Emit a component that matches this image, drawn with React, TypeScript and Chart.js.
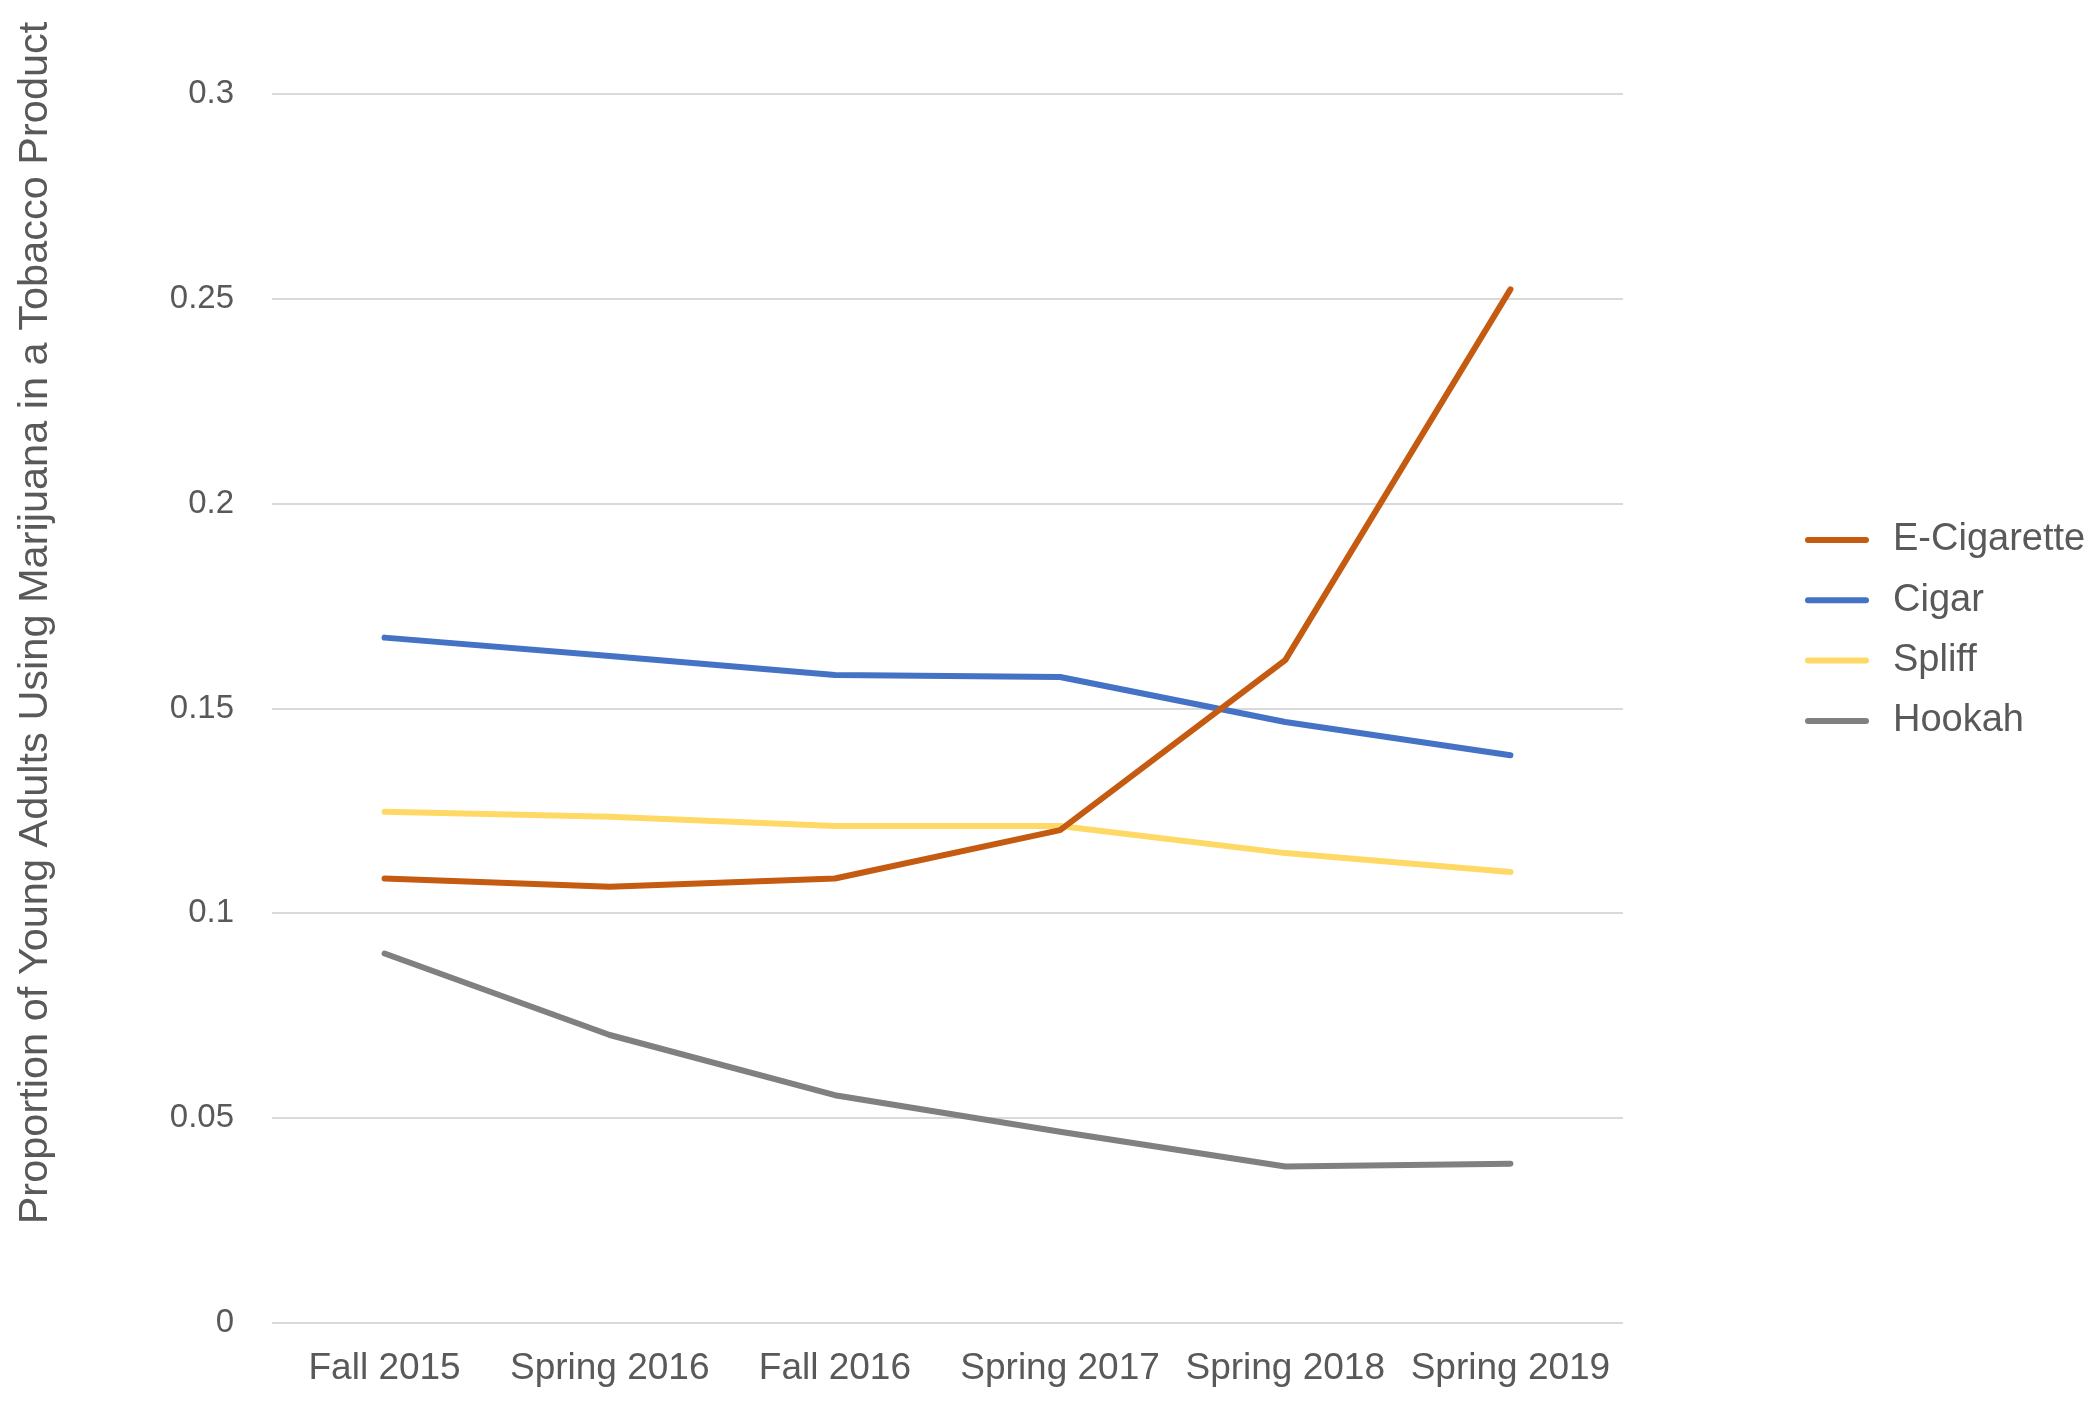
import React, { useEffect, useRef } from "react";
import { Chart, registerables } from "chart.js";

Chart.register(...registerables);

const categories = ["Fall 2015", "Spring 2016", "Fall 2016", "Spring 2017", "Spring 2018", "Spring 2019"];
const eCigarette = [0.1085, 0.1065, 0.1085, 0.1203, 0.1618, 0.2523];
const cigar = [0.1673, 0.1628, 0.1582, 0.1577, 0.1467, 0.1386];
const spliff = [0.1248, 0.1236, 0.1213, 0.1213, 0.1147, 0.1101];
const hookah = [0.0902, 0.0703, 0.0556, 0.0467, 0.0382, 0.0389];
const yTickLabels = ["0", "0.05", "0.1", "0.15", "0.2", "0.25", "0.3"];
const seriesNames = ["E-Cigarette", "Cigar", "Spliff", "Hookah"];
const yTitle = "Proportion of Young Adults Using Marijuana in a Tobacco Product";

const COLORS = ["#C55A11", "#4472C4", "#FFD966", "#808080"];
const FONT = "'Liberation Sans', Arial, sans-serif";
const TEXT = "#595959";

const legendPlugin = {
  id: "customLegend",
  afterDraw(chart: any) {
    const ctx = chart.ctx;
    const datasets = chart.data.datasets;
    ctx.save();
    ctx.font = `38px ${FONT}`;
    ctx.textBaseline = "middle";
    ctx.textAlign = "left";
    const startY = 540;
    const step = 60.3;
    datasets.forEach((ds: any, i: number) => {
      const y = startY + i * step;
      ctx.strokeStyle = ds.borderColor;
      ctx.lineWidth = 6;
      ctx.lineCap = "round";
      ctx.beginPath();
      ctx.moveTo(1808, y);
      ctx.lineTo(1866, y);
      ctx.stroke();
      ctx.fillStyle = TEXT;
      ctx.fillText(ds.label, 1893, y);
    });
    ctx.restore();
  },
};

const yTitlePlugin = {
  id: "yTitle",
  afterDraw(chart: any) {
    const ctx = chart.ctx;
    ctx.save();
    ctx.font = `41.5px ${FONT}`;
    ctx.fillStyle = TEXT;
    ctx.textAlign = "center";
    ctx.textBaseline = "middle";
    ctx.translate(36, 623);
    ctx.rotate(-Math.PI / 2);
    ctx.fillText(yTitle, 0, 0);
    ctx.restore();
  },
};

export default function App() {
  const ref = useRef<HTMLCanvasElement>(null);
  useEffect(() => {
    document.body.style.margin = "0";
    const seriesData = [eCigarette, cigar, spliff, hookah];
    const chart = new Chart(ref.current!, {
      type: "line",
      data: {
        labels: categories,
        datasets: seriesNames.map((name, i) => ({
          label: name,
          data: seriesData[i],
          borderColor: COLORS[i],
          backgroundColor: COLORS[i],
          borderWidth: 6,
          pointRadius: 0,
          tension: 0,
          borderCapStyle: "round" as const,
          borderJoinStyle: "round" as const,
        })),
      },
      options: {
        responsive: false,
        animation: false,
        devicePixelRatio: 1,
        layout: { padding: { top: 94, right: 477, left: 0, bottom: 0 } },
        plugins: { legend: { display: false }, tooltip: { enabled: false } },
        scales: {
          x: {
            offset: true,
            grid: { display: false, drawTicks: false },
            border: { display: false },
            ticks: {
              color: TEXT,
              font: { family: FONT, size: 37 },
              padding: 24,
              maxRotation: 0,
              autoSkip: false,
            },
            afterFit: (s: any) => {
              s.height = 78;
            },
          },
          y: {
            min: 0,
            max: 0.3,
            grid: { color: "#d9d9d9", lineWidth: 2, drawTicks: false },
            border: { display: false },
            ticks: {
              stepSize: 0.05,
              color: TEXT,
              font: { family: FONT, size: 33 },
              padding: 38,
              callback: (_v: any, i: number) => yTickLabels[i],
            },
            afterFit: (s: any) => {
              s.width = 272;
            },
          },
        },
      },
      plugins: [legendPlugin, yTitlePlugin],
    });
    return () => chart.destroy();
  }, []);
  return <canvas ref={ref} width={2100} height={1401} style={{ display: "block" }} />;
}
